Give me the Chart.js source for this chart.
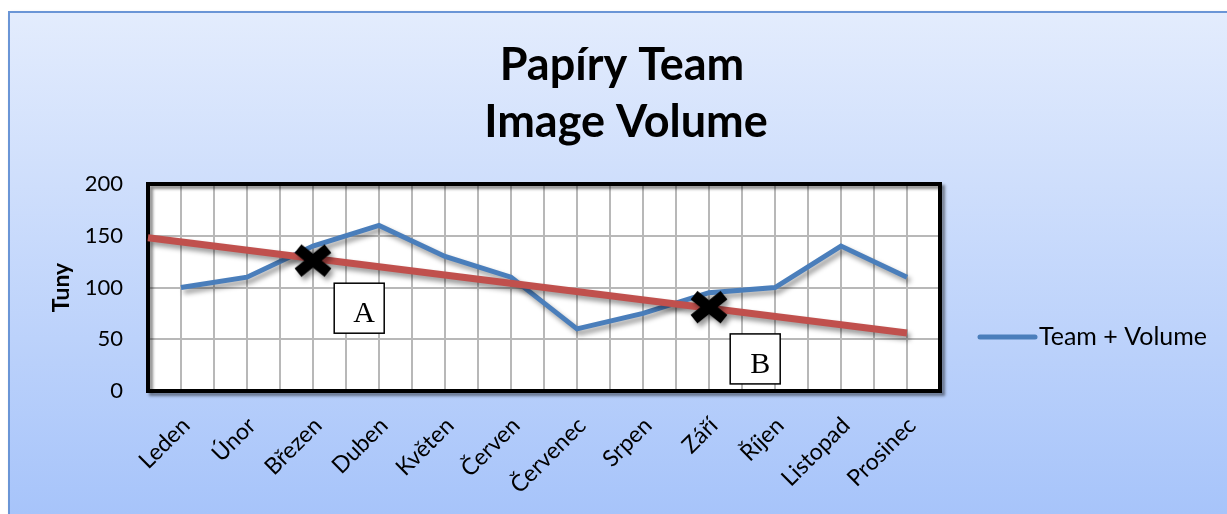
<!DOCTYPE html>
<html>
<head>
<meta charset="utf-8">
<script src="https://cdn.jsdelivr.net/npm/chart.js@4.4.0/dist/chart.umd.min.js"></script>
<style>
  html, body { margin: 0; padding: 0; background: #fff; }
</style>
</head>
<body>
<canvas id="chart" width="1227" height="514"></canvas>
<script>
// data
const months = ['Leden', 'Únor', 'Březen', 'Duben', 'Květen', 'Červen', 'Červenec', 'Srpen', 'Září', 'Říjen', 'Listopad', 'Prosinec'];
const teamVolume = [100, 110, 140, 160, 130, 110, 60, 75, 95, 100, 140, 110];
// red hand-drawn trend line (starts at the left plot edge)
const trendX = [-0.5, 11];
const trendY = [148, 56];
// the two black crosses
const crossX = [2, 8];
const crossY = [126, 81];
// boxed letters
const boxLabels = ['A', 'B'];
const boxX = [2.7, 8.7];
const boxY = [80, 31];
const titleLines = ['Papíry Team', 'Image Volume'];

const FONT = 'Lato';
const GRID = '#b8b8b8';

// bold black X used as point image (wider than tall, like the original)
function makeCross() {
  const c = document.createElement('canvas');
  c.width = 44;
  c.height = 36;
  const g = c.getContext('2d');
  g.strokeStyle = '#000';
  g.lineWidth = 11;
  g.beginPath();
  g.moveTo(7, 6); g.lineTo(37, 30);
  g.moveTo(7, 30); g.lineTo(37, 6);
  g.stroke();
  return c;
}

// background frame + white plot area
const frame = {
  id: 'frame',
  beforeDraw(chart) {
    const { ctx, width, height, chartArea: a } = chart;
    ctx.save();
    ctx.fillStyle = '#fff';
    ctx.fillRect(0, 0, width, height);
    const g = ctx.createLinearGradient(0, 12, 0, height);
    g.addColorStop(0, '#e3ecfd');
    g.addColorStop(1, '#a7c4fa');
    ctx.shadowColor = 'rgba(0,0,0,0.35)';
    ctx.shadowBlur = 4;
    ctx.shadowOffsetX = 2;
    ctx.shadowOffsetY = 2;
    ctx.fillStyle = g;
    ctx.fillRect(9, 12, width, height);
    ctx.shadowColor = 'transparent';
    ctx.strokeStyle = '#6a95d6';
    ctx.lineWidth = 2;
    ctx.strokeRect(9, 12, width, height);
    ctx.fillStyle = '#fff';
    ctx.fillRect(a.left, a.top, a.right - a.left, a.bottom - a.top);

    // title, centred on the whole frame
    ctx.fillStyle = '#000';
    ctx.font = 'bold 45px ' + FONT;
    ctx.textAlign = 'center';
    ctx.textBaseline = 'alphabetic';
    ctx.fillText(titleLines[0], 622, 80);
    ctx.fillText(titleLines[1], 626, 137);
    ctx.restore();
  },
  beforeDatasetsDraw(chart) {
    const { ctx, chartArea: a } = chart;
    ctx.save();
    ctx.shadowColor = 'rgba(0,0,0,0.45)';
    ctx.shadowBlur = 3;
    ctx.shadowOffsetX = 3;
    ctx.shadowOffsetY = 3;
    ctx.strokeStyle = '#000';
    ctx.lineWidth = 4;
    ctx.strokeRect(a.left, a.top, a.right - a.left, a.bottom - a.top);
    ctx.restore();
  }
};

// soft drop shadow under each line
const shadow = {
  id: 'shadow',
  beforeDatasetDraw(chart) {
    const ctx = chart.ctx;
    ctx.save();
    ctx.shadowColor = 'rgba(0,0,0,0.4)';
    ctx.shadowBlur = 5;
    ctx.shadowOffsetX = 3;
    ctx.shadowOffsetY = 4;
  },
  afterDatasetDraw(chart) {
    chart.ctx.restore();
  }
};

// boxed letters A / B and the legend
const extras = {
  id: 'extras',
  afterDatasetsDraw(chart) {
    const { ctx, scales: { x, y } } = chart;
    ctx.save();
    boxLabels.forEach((t, i) => {
      const cx = x.getPixelForValue(boxX[i]);
      const cy = y.getPixelForValue(boxY[i]);
      ctx.fillStyle = '#fff';
      ctx.fillRect(cx - 25, cy - 25, 50, 50);
      ctx.strokeStyle = '#000';
      ctx.lineWidth = 1.5;
      ctx.strokeRect(cx - 25, cy - 25, 50, 50);
      ctx.fillStyle = '#000';
      ctx.font = '30px "Liberation Serif"';
      ctx.textAlign = 'center';
      ctx.textBaseline = 'middle';
      ctx.fillText(t, cx + 5, cy + 6);
    });
    ctx.restore();
  },
  afterDraw(chart) {
    const { ctx, chartArea: a } = chart;
    const ly = 337;
    const lx = a.right + 40;
    ctx.save();
    ctx.strokeStyle = '#4a7ebb';
    ctx.lineWidth = 5;
    ctx.lineCap = 'round';
    ctx.beginPath();
    ctx.moveTo(lx, ly);
    ctx.lineTo(lx + 55, ly);
    ctx.stroke();
    ctx.fillStyle = '#000';
    ctx.font = '25px ' + FONT;
    ctx.textBaseline = 'middle';
    ctx.fillText(chart.data.datasets[2].label, lx + 59, ly);
    ctx.restore();
  }
};

new Chart(document.getElementById('chart'), {
  type: 'line',
  data: {
    datasets: [
      {
        label: 'marks',
        type: 'scatter',
        data: crossX.map((v, i) => ({ x: v, y: crossY[i] })),
        pointStyle: makeCross(),
        order: 0
      },
      {
        label: 'trend',
        data: trendX.map((v, i) => ({ x: v, y: trendY[i] })),
        borderColor: '#c0504d',
        borderWidth: 7,
        pointRadius: 0,
        order: 1
      },
      {
        label: 'Team + Volume',
        data: teamVolume.map((v, i) => ({ x: i, y: v })),
        borderColor: '#4a7ebb',
        borderWidth: 5,
        pointRadius: 0,
        order: 2
      }
    ]
  },
  options: {
    responsive: false,
    animation: false,
    events: [],
    clip: false,
    layout: { padding: { left: 20, right: 287, top: 184, bottom: 0 } },
    plugins: {
      legend: { display: false },
      tooltip: { enabled: false },
      title: { display: false }
    },
    scales: {
      x: {
        type: 'linear',
        min: -0.5,
        max: 11.5,
        afterFit: s => { s.height = 123; },
        grid: { color: GRID, lineWidth: 2, drawTicks: false },
        border: { display: false },
        ticks: {
          stepSize: 0.5,
          autoSkip: false,
          minRotation: 45,
          maxRotation: 45,
          padding: 21,
          labelOffset: 5,
          color: '#000',
          font: { family: FONT, size: 23 },
          callback: v => Number.isInteger(v) ? months[v] : ''
        }
      },
      y: {
        min: 0,
        max: 200,
        afterFit: s => { s.width = 128; },
        grid: { color: GRID, lineWidth: 2, drawTicks: false },
        border: { display: false },
        ticks: {
          stepSize: 50,
          padding: 25,
          color: '#000',
          font: { family: FONT, size: 22 }
        },
        title: {
          display: true,
          text: 'Tuny',
          color: '#000',
          font: { family: FONT, size: 23, weight: 'bold' },
          padding: { top: 28, bottom: 0 }
        }
      }
    }
  },
  plugins: [frame, shadow, extras]
});
</script>
</body>
</html>
